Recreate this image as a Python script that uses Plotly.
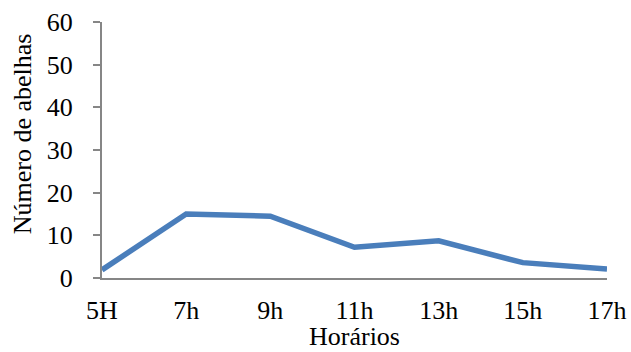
import plotly.graph_objects as go

horarios = ["5H", "7h", "9h", "11h", "13h", "15h", "17h"]
abelhas = [1.9, 15.0, 14.5, 7.2, 8.7, 3.6, 2.1]
y_ticks = [0, 10, 20, 30, 40, 50, 60]

font_family = "Liberation Serif, Times New Roman, serif"
title_font = dict(family=font_family, size=26, color="black")

fig = go.Figure(
    go.Scatter(
        x=list(range(len(horarios))),
        y=abelhas,
        mode="lines",
        line=dict(color="#4a7ebb", width=5.5),
        hoverinfo="skip",
    )
)

fig.update_layout(
    width=631,
    height=352,
    margin=dict(l=102, r=24, t=22, b=74),
    paper_bgcolor="white",
    plot_bgcolor="white",
    showlegend=False,
    font=dict(family=font_family, size=26, color="black"),
)

fig.update_xaxes(
    range=[0, len(horarios) - 1],
    tickmode="array",
    tickvals=list(range(len(horarios))),
    ticktext=horarios,
    tickfont=dict(size=26),
    showgrid=False,
    zeroline=False,
    showline=True,
    linecolor="#868686",
    linewidth=2,
    ticks="",
    ticklabelstandoff=8,
    automargin=False,
)

fig.update_yaxes(
    range=[0, 60],
    tickmode="array",
    tickvals=y_ticks,
    tickfont=dict(size=26),
    showgrid=False,
    zeroline=False,
    showline=True,
    linecolor="#868686",
    linewidth=2,
    ticks="outside",
    ticklen=7,
    tickwidth=2,
    tickcolor="#868686",
    ticklabelstandoff=15,
    automargin=False,
)

# Axis titles as annotations for precise placement;
# the x title sits on the bottom edge of the page so it is not clipped
fig.add_annotation(
    text="Horários",
    xref="paper",
    yref="paper",
    x=0.5,
    y=-74 / 256,
    xanchor="center",
    yanchor="bottom",
    borderpad=0,
    showarrow=False,
    font=title_font,
)

fig.add_annotation(
    text="Número de abelhas",
    textangle=-90,
    xref="paper",
    yref="paper",
    x=-0.158,
    y=0.5625,
    xanchor="center",
    yanchor="middle",
    showarrow=False,
    font=title_font,
)

fig.write_html("out.html")
